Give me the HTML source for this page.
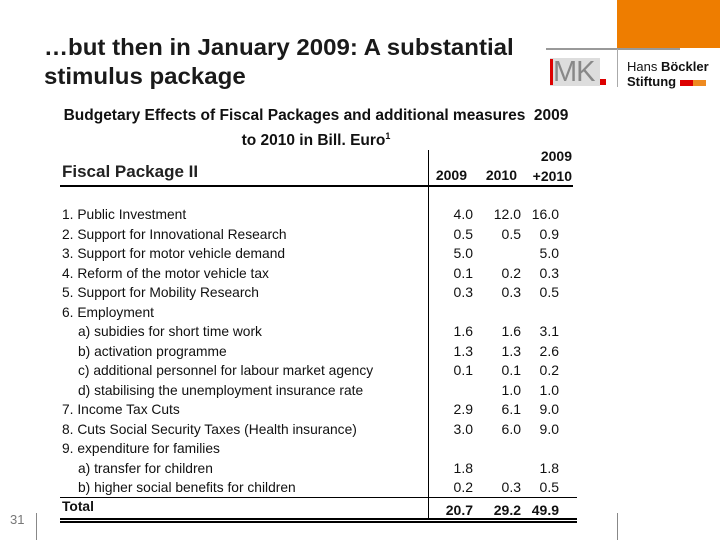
<!DOCTYPE html>
<html><head><meta charset="utf-8"><style>
body{margin:0;width:720px;height:540px;position:relative;background:#fff;overflow:hidden;font-family:"Liberation Sans",sans-serif;color:#111}
.a{position:absolute;white-space:nowrap}
.t{font-size:23px;font-weight:bold;color:#1a1a1a;transform-origin:left top;transform:scaleX(1.045)}
.r{font-size:14px;transform-origin:left center;transform:scaleX(0.985)}
.n{font-size:14px;text-align:right;width:50px}
.b{font-weight:bold}
</style></head><body>
<div class="a" style="left:617px;top:0;width:103px;height:48px;background:#ee7d00"></div>
<div class="a" style="left:546px;top:48px;width:134px;height:2px;background:#999"></div>
<div class="a" style="left:617px;top:49px;width:1px;height:38px;background:#aaa"></div>
<div class="a" style="left:550px;top:58px;width:50px;height:28px;background:#ddd;font-size:29px;line-height:28px;color:#888;letter-spacing:-1px"><span style="display:inline-block;width:3px;height:26px;background:#d00;vertical-align:top;margin-top:1px"></span>MK</div>
<div class="a" style="left:600px;top:79px;width:6px;height:6px;background:#d00"></div>
<div class="a" style="left:627px;top:59px;font-size:13px;line-height:15px;color:#111">Hans <b>Böckler</b><br><b>Stiftung</b> <span style="display:inline-block;width:13px;height:6px;background:#d00"></span><span style="display:inline-block;width:13px;height:6px;background:#ee8a20"></span></div>

<div class="a t" style="left:44px;top:33px;line-height:29px">…but then in January 2009: A substantial<br>stimulus package</div>

<div class="a b" style="left:62px;top:106px;font-size:15.5px;line-height:20px;width:508px;text-align:center">Budgetary Effects of Fiscal Packages and additional measures&nbsp;&nbsp;2009</div>
<div class="a b" style="left:62px;top:126px;font-size:15.5px;line-height:20px;width:508px;text-align:center">to 2010 in Bill. Euro<span style="font-size:9px;vertical-align:6px">1</span></div>

<div class="a" style="left:62px;top:162px;font-size:17px;font-weight:bold;color:#222">Fiscal Package II</div>
<div class="a n b" style="left:417px;top:167px">2009</div>
<div class="a n b" style="left:467px;top:167px">2010</div>
<div class="a n b" style="left:522px;top:146px;line-height:20px">2009<br>+2010</div>

<div class="a" style="left:60px;top:185px;width:513px;height:2px;background:#000"></div>
<div class="a" style="left:428px;top:150px;width:1px;height:368px;background:#000"></div>
<div class="a" style="left:60px;top:497px;width:517px;height:1px;background:#000"></div>
<div class="a" style="left:60px;top:518px;width:517px;border-top:2px solid #000;border-bottom:2px solid #000;height:1px"></div>

<div id="rows"></div>

<div class="a" style="left:10px;top:512px;font-size:13px;color:#777">31</div>
<div class="a" style="left:36px;top:513px;width:1px;height:27px;background:#888"></div>
<div class="a" style="left:617px;top:513px;width:1px;height:27px;background:#888"></div>

<script>
const labels=["1. Public Investment","2. Support for Innovational Research","3. Support for motor vehicle demand","4. Reform of the motor vehicle tax","5. Support for Mobility Research","6. Employment","   a) subidies for short time work","   b) activation programme","   c) additional personnel for labour market agency","   d) stabilising the unemployment insurance rate","7. Income Tax Cuts","8. Cuts Social Security Taxes (Health insurance)","9. expenditure for families","   a)  transfer for children","   b) higher social benefits for children","Total"];
const v2009=["4.0","0.5","5.0","0.1","0.3","","1.6","1.3","0.1","","2.9","3.0","","1.8","0.2","20.7"];
const v2010=["12.0","0.5","","0.2","0.3","","1.6","1.3","0.1","1.0","6.1","6.0","","","0.3","29.2"];
const vTot=["16.0","0.9","5.0","0.3","0.5","","3.1","2.6","0.2","1.0","9.0","9.0","","1.8","0.5","49.9"];
const host=document.getElementById('rows');
labels.forEach((l,i)=>{
  const y=206+i*19.5;const tot=i===labels.length-1;
  const d=document.createElement('div');
  d.className='a r'+(tot?' b':'');
  d.style.left=(l.startsWith('   ')?78:62)+'px';d.style.top=(tot?y-1:y)+'px';
  d.textContent=l.trim();
  
  
  host.appendChild(d);
  [[v2009,423],[v2010,471],[vTot,509]].forEach(([arr,x])=>{
    const c=document.createElement('div');
    c.className='a n'+(tot?' b':'');
    c.style.left=x+'px';c.style.top=(tot?y+3:y)+'px';
    c.textContent=arr[i];
    
    
    host.appendChild(c);
  });
});
</script>
</body></html>
